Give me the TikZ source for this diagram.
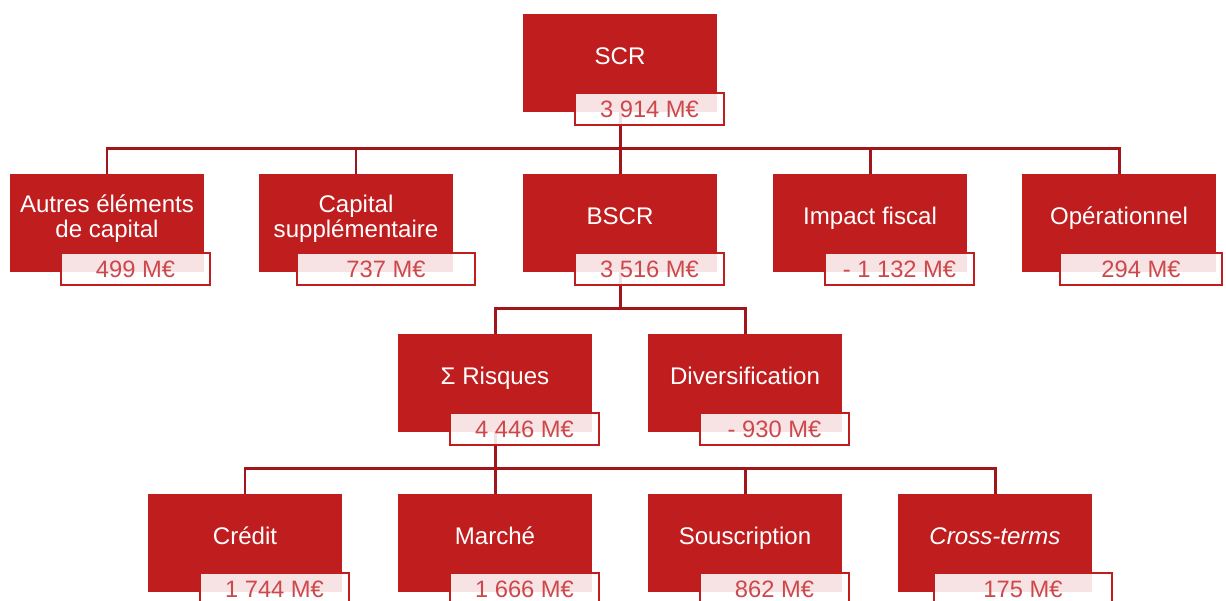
\documentclass[tikz,border=0pt]{standalone}
\usepackage{fontspec}
\setmainfont{Liberation Sans}
\begin{document}
\begin{tikzpicture}[x=0.02cm,y=-0.02cm,
        redbox/.style={rectangle, fill=boxred, minimum width=3.88cm, minimum height=1.96cm, inner sep=0pt, outer sep=0pt},
        boxlabel/.style={text=white, align=center, inner sep=0pt, font=\fontsize{13.7}{14.3}\selectfont},
        valbox/.style={rectangle, draw=boxred, line width=1.1pt, fill=white, fill opacity=0.88, text opacity=1,
            text=valred, minimum width=2.98cm, minimum height=0.64cm, inner sep=0pt, outer sep=0pt,
            anchor=north west, font=\fontsize{13.5}{14.3}\selectfont},
        link/.style={draw=linkred, line width=1.7pt}]
        \definecolor{boxred}{RGB}{192, 29, 31}
        \definecolor{valred}{RGB}{205, 72, 76}
        \definecolor{linkred}{RGB}{160, 22, 27}

        \clip (0,0) rectangle (1226,600);

        % Boxes
        \node[redbox] (scr) at (620,63) {};
        \node[redbox] (autres) at (107,223) {};
        \node[redbox] (capital) at (356,223) {};
        \node[redbox] (bscr) at (620,223) {};
        \node[redbox] (impact) at (870,223) {};
        \node[redbox] (oper) at (1119,223) {};
        \node[redbox] (risques) at (495,383) {};
        \node[redbox] (divers) at (745,383) {};
        \node[redbox] (credit) at (245,543) {};
        \node[redbox] (marche) at (495,543) {};
        \node[redbox] (souscr) at (745,543) {};
        \node[redbox] (cross) at (995,543) {};

        % Box titles
        \node[boxlabel, anchor=base] at ([shift={(0,1.5)}]scr.center) {SCR};
        \node[boxlabel] at ([shift={(0,-4)}]autres.center) {Autres éléments\\de capital};
        \node[boxlabel] at ([shift={(0,-4)}]capital.center) {Capital\\supplémentaire};
        \node[boxlabel, anchor=base] at ([shift={(0,1.5)}]bscr.center) {BSCR};
        \node[boxlabel, anchor=base] at ([shift={(0,1.5)}]impact.center) {Impact fiscal};
        \node[boxlabel, anchor=base] at ([shift={(0,1.5)}]oper.center) {Opérationnel};
        \node[boxlabel, anchor=base] at ([shift={(0,1.5)}]risques.center) {Σ Risques};
        \node[boxlabel, anchor=base] at ([shift={(0,1.5)}]divers.center) {Diversification};
        \node[boxlabel, anchor=base] at ([shift={(0,1.5)}]credit.center) {Crédit};
        \node[boxlabel, anchor=base] at ([shift={(0,1.5)}]marche.center) {Marché};
        \node[boxlabel, anchor=base] at ([shift={(0,1.5)}]souscr.center) {Souscription};
        \node[boxlabel, anchor=base] at ([shift={(0,1.5)}]cross.center) {\textit{Cross-terms}};

        % Connectors
        \coordinate (busA) at (620,148);
        \draw[link] (scr.south) -- (busA);
        \foreach \n in {autres,capital,bscr,impact,oper}
            \draw[link] (busA) -| (\n.north);
        \coordinate (busB) at (620,308);
        \draw[link] (bscr.south) -- (busB);
        \foreach \n in {risques,divers}
            \draw[link] (busB) -| (\n.north);
        \coordinate (busC) at (495,468);
        \draw[link] (risques.south) -- (busC);
        \foreach \n in {credit,marche,souscr,cross}
            \draw[link] (busC) -| (\n.north);

        % Values
        \node[valbox] (vscr) at ([shift={(52,-19)}]scr.south west) {3 914 M€};
        \node[valbox] (vautres) at ([shift={(51,-19)}]autres.south west) {499 M€};
        \node[valbox, minimum width=3.56cm] (vcapital) at ([shift={(38,-19)}]capital.south west) {737 M€};
        \node[valbox] (vbscr) at ([shift={(52,-19)}]bscr.south west) {3 516 M€};
        \node[valbox] (vimpact) at ([shift={(52,-19)}]impact.south west) {- 1 132 M€};
        \node[valbox, minimum width=3.24cm] (voper) at ([shift={(38,-19)}]oper.south west) {294 M€};
        \node[valbox] (vrisques) at ([shift={(52,-19)}]risques.south west) {4 446 M€};
        \node[valbox] (vdivers) at ([shift={(52,-19)}]divers.south west) {- 930 M€};
        \node[valbox] (vcredit) at ([shift={(52,-19)}]credit.south west) {1 744 M€};
        \node[valbox] (vmarche) at ([shift={(52,-19)}]marche.south west) {1 666 M€};
        \node[valbox] (vsouscr) at ([shift={(52,-19)}]souscr.south west) {862 M€};
        \node[valbox, minimum width=3.56cm] (vcross) at ([shift={(36,-19)}]cross.south west) {175 M€};
\end{tikzpicture}
\end{document}
